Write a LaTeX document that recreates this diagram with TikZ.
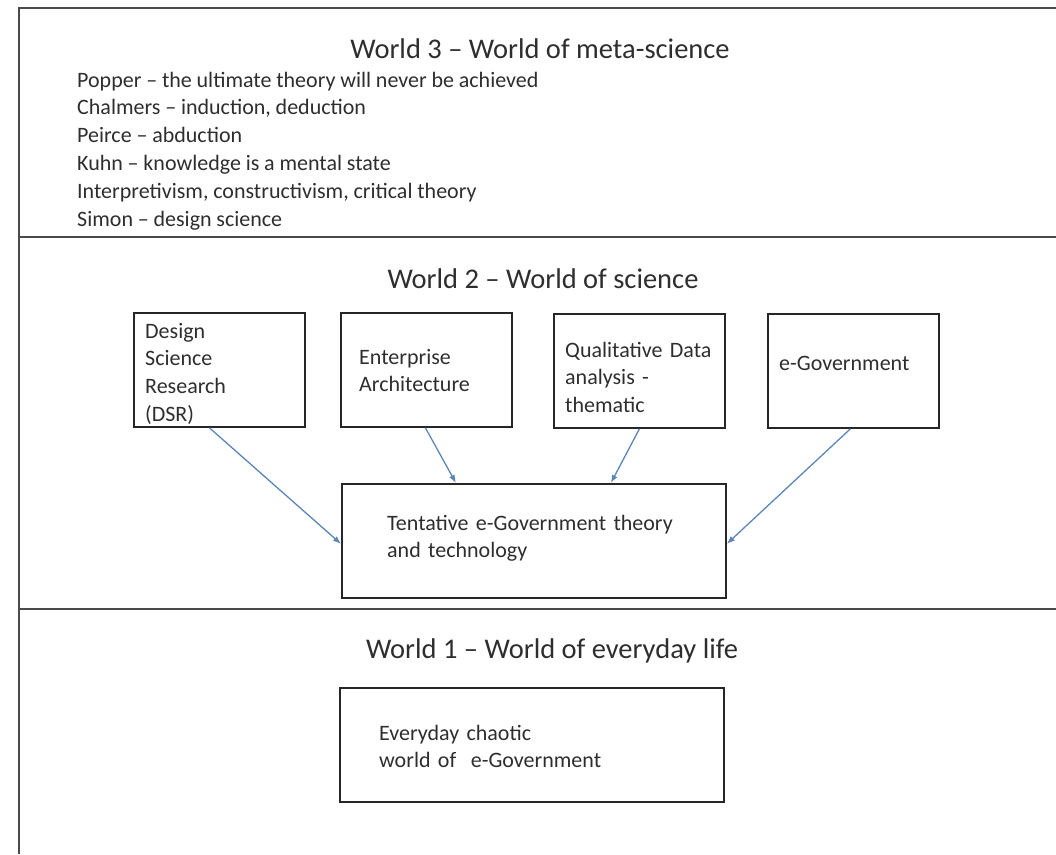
\documentclass[tikz,border=0pt]{standalone}
\usepackage{fontspec}
\setmainfont{Carlito}
\usetikzlibrary{arrows.meta}

\definecolor{framegray}{HTML}{4A4A4A}
\definecolor{inkgray}{HTML}{2E2E2E}
\definecolor{arrowblue}{HTML}{5B86B5}

% word spaces for the list of positions
\newcommand\narrowwords{\spaceskip=4.8pt plus 1pt minus 0.5pt\relax}

\tikzset{
  frameline/.style={draw=framegray, line width=2.2pt},
  worldtitle/.style={anchor=base, inner sep=0pt, text=inkgray,
    font=\fontsize{28.5}{34}\selectfont},
  bodytext/.style={anchor=base west, inner sep=0pt, text=inkgray, align=left,
    text width=#1, font=\fontsize{22}{27.8}\selectfont},
  bodytext/.default=400pt,
  topicbox/.style={draw=black!85, line width=1.8pt, anchor=north west,
    minimum width=171pt, minimum height=114pt, inner sep=0pt},
  widebox/.style={draw=black!85, line width=1.8pt, anchor=north west,
    minimum width=384pt, minimum height=114pt, inner sep=0pt},
  feed/.style={draw=arrowblue, line width=1.3pt,
    -{Latex[length=8pt,width=6pt]}},
}

\begin{document}
\begin{tikzpicture}[x=1pt, y=-1pt]
  \useasboundingbox (0,0) rectangle (1056,854);

  % frame and the two separators between the worlds
  \coordinate (ftr) at (1056,8);
  \coordinate (ftl) at (19,8);
  \coordinate (fbl) at (19,854);
  \draw[frameline] (ftr) -- (ftl) -- (fbl);
  \coordinate (s1l) at (19,237);
  \coordinate (s1r) at (1056,237);
  \coordinate (s2l) at (19,609);
  \coordinate (s2r) at (1056,609);
  \draw[frameline] (s1l) -- (s1r);
  \draw[frameline] (s2l) -- (s2r);

  % World 3
  \node[worldtitle] (w3) at (540,58) {World 3 – World of meta-science};
  \node[bodytext=700pt] (w3list) at (77,87) {\narrowwords
    Popper – the ultimate theory will never be achieved\\
    Chalmers – induction, deduction\\
    Peirce – abduction\\
    Kuhn – knowledge is a mental state\\
    Interpretivism, constructivism, critical theory\\
    Simon – design science};

  % World 2
  \node[worldtitle] (w2) at (543,288) {World 2 – World of science};

  \node[topicbox] (dsr)  at (133,312) {};
  \node[topicbox] (ea)   at (340,312) {};
  \node[topicbox] (qda)  at (553,313) {};
  \node[topicbox] (egov) at (767,313) {};
  \node[widebox]  (tent) at (341,483) {};

  \node[bodytext=150pt] (dsrt)  at (145,338) {Design\\Science\\Research\\(DSR)};
  \node[bodytext=150pt] (eat)   at (359,364) {Enterprise\\Architecture};
  \node[bodytext=160pt] (qdat)  at (565,357) {Qualitative Data\\analysis -\\thematic};
  \node[bodytext=150pt] (egovt) at (779,370) {e-Government};
  \node[bodytext=340pt] (tentt) at (387,530) {Tentative e-Government theory\\and technology};

  \draw[feed] ([xshift=-10pt]dsr.south)  -- ([yshift=-3pt]tent.west);
  \draw[feed] ([xshift=-1pt]ea.south)    -- ([xshift=-78pt]tent.north);
  \draw[feed] ([xshift=-0pt]qda.south)   -- ([xshift=77pt]tent.north);
  \draw[feed] ([xshift=-3pt]egov.south)  -- ([yshift=-3pt]tent.east);

  % World 1
  \node[worldtitle] (w1) at (552,658) {World 1 – World of everyday life};
  \node[widebox] (life) at (339,687) {};
  \node[bodytext=340pt] (lifet) at (379,740) {Everyday chaotic\\world of\ \ e-Government};
\end{tikzpicture}
\end{document}
